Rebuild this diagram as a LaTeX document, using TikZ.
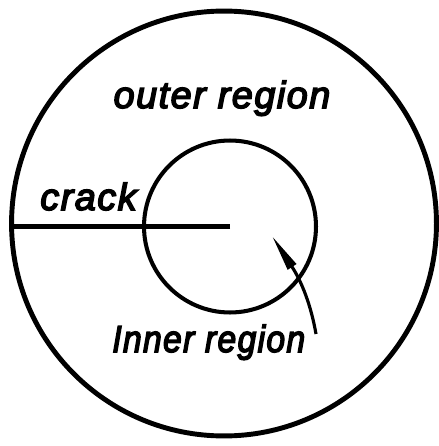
\documentclass[tikz,border=0pt]{standalone}
\usepackage{fontspec}
\setmainfont{Liberation Sans}
\newfontfamily\lettering{Liberation Sans}[ItalicFeatures={FakeBold=4, LetterSpace=4}]
\usepackage{xcolor}
\usetikzlibrary{positioning, arrows.meta, calc}
\definecolor{ink}{RGB}{0,0,0}

\begin{document}
\begin{tikzpicture}[
    x=0.02cm, y=-0.02cm,
    every node/.style={text=ink},
    ring/.style={draw=ink, circle, inner sep=0pt},
    lbl/.style={font=\lettering\fontsize{21.5}{26}\selectfont\itshape, inner sep=0pt},
]
% Canvas: x in [0, 439], y in [0, 446] (pixels, y down)
\useasboundingbox (0, 0) rectangle (439, 446);

% --- Regions ---
\node[ring, line width=2.8pt, minimum size=8.5cm] (outer) at (224, 223.5) {};
\node[ring, line width=2.3pt, minimum size=3.44cm] (inner) at (230, 226.5) {};

% --- Crack: from the outer rim to the centre ---
\draw[ink, line width=2.9pt] (inner.center) -- (inner.center -| outer.west);

% --- Labels ---
\node[lbl, anchor=base] (outerlbl) at (222, 108) {outer region};
\node[lbl, anchor=base west] (cracklbl) at (40, 210) {crack};
\node[lbl, anchor=base west] (innerlbl) at (112, 352) {\scalebox{0.89}[1]{Inner region}};

% --- Pointer to the inner region ---
\coordinate (tail) at (316, 334);
\coordinate (tip) at (272, 236);
\draw[ink, line width=1.8pt, -{Triangle[length=21pt, width=5.5pt]}]
    (tail) to[out=100, in=-57] (tip);

\end{tikzpicture}
\end{document}
